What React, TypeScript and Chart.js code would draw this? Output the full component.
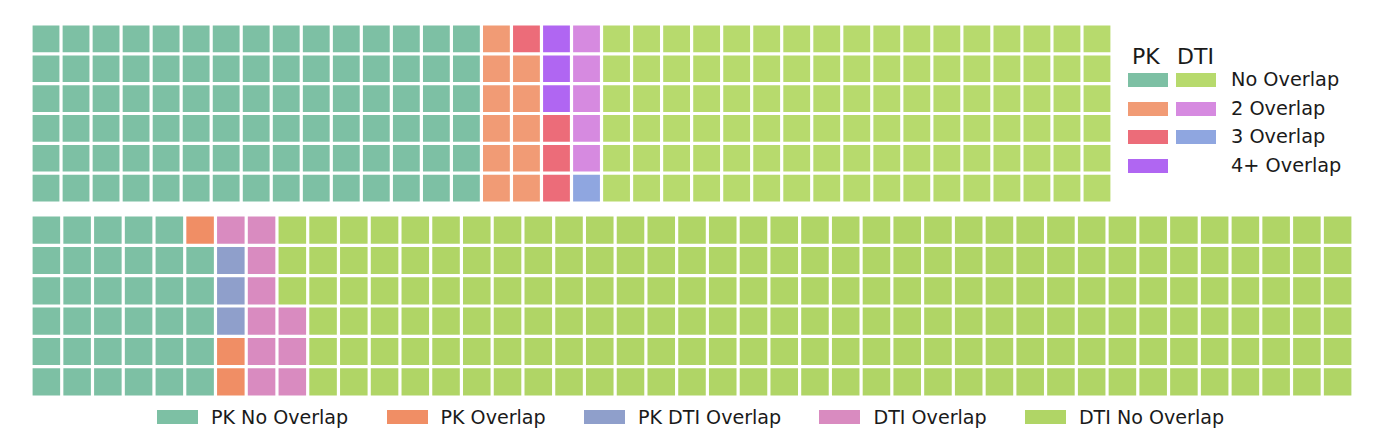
import React, { useEffect, useRef } from "react";
import { Chart, registerables } from "chart.js";

Chart.register(...registerables);

// ---- Top waffle (36 columns x 6 rows, filled column by column from the bottom) ----
const topRows = 6;
const topCols = 36;
const topCategories = [
  "PK No Overlap",
  "PK 2 Overlap",
  "PK 3 Overlap",
  "PK 4+ Overlap",
  "DTI 3 Overlap",
  "DTI 2 Overlap",
  "DTI No Overlap",
];
const topCounts = [90, 11, 4, 3, 1, 5, 102];
const topColors = ["#7dc0a4", "#f19b75", "#ec6c79", "#b066f2", "#8fa6e0", "#d68ae0", "#b7da6d"];

// ---- Bottom waffle (43 columns x 6 rows) ----
const bottomRows = 6;
const bottomCols = 43;
const bottomCategories = ["PK No Overlap", "PK Overlap", "PK DTI Overlap", "DTI Overlap", "DTI No Overlap"];
const bottomCounts = [35, 3, 3, 10, 207];
const bottomColors = ["#7dc0a4", "#f08e65", "#8f9fcb", "#d98bc0", "#b0d566"];

// ---- Top legend ----
const legendHeaders = ["PK", "DTI"];
const legendRowLabels = ["No Overlap", "2 Overlap", "3 Overlap", "4+ Overlap"];
const legendPkColors = ["#7dc0a4", "#f19b75", "#ec6c79", "#b066f2"];
const legendDtiColors = ["#b7da6d", "#d68ae0", "#8fa6e0", null];

const FONT = '"DejaVu Sans", sans-serif';

function buildDatasets(counts: number[], colors: string[], rows: number, cols: number) {
  const cells: string[] = [];
  counts.forEach((n, i) => {
    for (let k = 0; k < n; k++) cells.push(colors[i]);
  });
  const datasets = [];
  for (let r = 0; r < rows; r++) {
    const data: number[] = [];
    const bg: string[] = [];
    for (let c = 0; c < cols; c++) {
      data.push(1);
      bg.push(cells[c * rows + r] || "#ffffff");
    }
    datasets.push({
      label: "row " + (r + 1),
      data,
      backgroundColor: bg,
      borderColor: "#ffffff",
      borderWidth: 1.6,
      borderSkipped: false,
      inflateAmount: 0,
      barPercentage: 1,
      categoryPercentage: 1,
    });
  }
  return datasets;
}

function Waffle(props: {
  counts: number[];
  colors: string[];
  rows: number;
  cols: number;
  style: React.CSSProperties;
}) {
  const ref = useRef<HTMLCanvasElement>(null);
  useEffect(() => {
    if (!ref.current) return;
    const labels = Array.from({ length: props.cols }, (_, i) => String(i + 1));
    const chart = new Chart(ref.current, {
      type: "bar",
      data: { labels, datasets: buildDatasets(props.counts, props.colors, props.rows, props.cols) as any },
      options: {
        animation: false,
        responsive: true,
        maintainAspectRatio: false,
        layout: { padding: 0 },
        plugins: { legend: { display: false }, tooltip: { enabled: false } },
        scales: {
          x: { stacked: true, display: false, offset: true, grid: { display: false } },
          y: { stacked: true, display: false, min: 0, max: props.rows, grid: { display: false } },
        },
      },
    });
    return () => chart.destroy();
  }, []);
  return (
    <div style={{ position: "absolute", ...props.style }}>
      <canvas ref={ref} />
    </div>
  );
}

const txt: React.CSSProperties = {
  position: "absolute",
  fontFamily: FONT,
  color: "#1a1a1a",
  whiteSpace: "nowrap",
  lineHeight: 1,
};

export default function App() {
  const legendRowY = [80, 108.5, 137, 165.5];
  return (
    <div
      style={{
        position: "fixed",
        left: 0,
        top: 0,
        width: 1394,
        height: 442,
        background: "#ffffff",
        overflow: "hidden",
      }}
    >
      <Waffle
        counts={topCounts}
        colors={topColors}
        rows={topRows}
        cols={topCols}
        style={{ left: 31, top: 24, width: 1081, height: 179 }}
      />
      <Waffle
        counts={bottomCounts}
        colors={bottomColors}
        rows={bottomRows}
        cols={bottomCols}
        style={{ left: 31, top: 215, width: 1322, height: 182 }}
      />

      {/* top-right legend */}
      <div style={{ ...txt, left: 1132, top: 46, fontSize: 22 }}>{legendHeaders[0]}</div>
      <div style={{ ...txt, left: 1177, top: 46, fontSize: 22 }}>{legendHeaders[1]}</div>
      {legendRowLabels.map((lab, i) => (
        <React.Fragment key={lab}>
          <div
            style={{
              position: "absolute",
              left: 1128,
              top: legendRowY[i] - 7,
              width: 40,
              height: 14,
              background: legendPkColors[i],
            }}
          />
          {legendDtiColors[i] && (
            <div
              style={{
                position: "absolute",
                left: 1176,
                top: legendRowY[i] - 7,
                width: 40,
                height: 14,
                background: legendDtiColors[i] as string,
              }}
            />
          )}
          <div style={{ ...txt, left: 1231, top: legendRowY[i] - 10, fontSize: 19.3 }}>{lab}</div>
        </React.Fragment>
      ))}

      {/* bottom legend */}
      <div
        style={{
          position: "absolute",
          left: 157,
          top: 406,
          display: "flex",
          alignItems: "center",
          height: 22,
        }}
      >
        {bottomCategories.map((lab, i) => (
          <div key={lab} style={{ display: "flex", alignItems: "center", marginRight: 38.3 }}>
            <div style={{ width: 41, height: 14, background: bottomColors[i], marginRight: 13 }} />
            <span style={{ fontFamily: FONT, fontSize: 19.1, color: "#1a1a1a", whiteSpace: "nowrap" }}>{lab}</span>
          </div>
        ))}
      </div>
    </div>
  );
}
